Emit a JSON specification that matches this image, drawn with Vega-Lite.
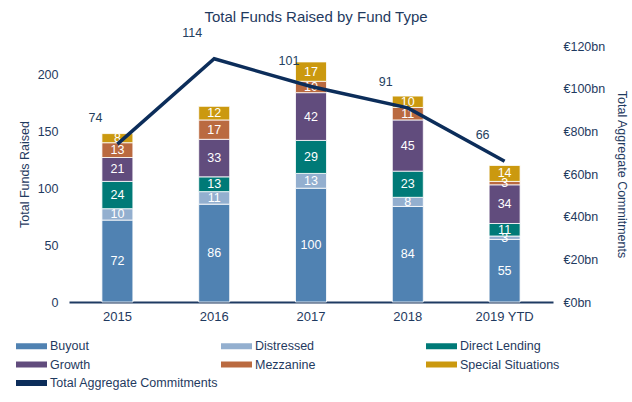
{
  "$schema": "https://vega.github.io/schema/vega-lite/v6.json",
  "width": 484,
  "height": 256,
  "autosize": {"type": "none"},
  "padding": {"left": 69, "top": 46, "right": 79, "bottom": 100},
  "background": "white",
  "config": {
    "font": "Liberation Sans",
    "view": {"stroke": null},
    "axis": {"labelColor": "#1F3A60", "titleColor": "#1F3A60", "labelFont": "Liberation Sans", "titleFont": "Liberation Sans", "grid": false, "ticks": false}
  },
  "title": {"text": "Total Funds Raised by Fund Type", "fontSize": 15, "fontWeight": "normal", "color": "#1F3A60", "anchor": "middle", "offset": 2, "dx": 5},
  "datasets": {
    "bars": [
      {"year": "2015", "type": "Buyout", "value": 72, "k": 1},
      {"year": "2015", "type": "Distressed", "value": 10, "k": 2},
      {"year": "2015", "type": "Direct Lending", "value": 24, "k": 3},
      {"year": "2015", "type": "Growth", "value": 21, "k": 4},
      {"year": "2015", "type": "Mezzanine", "value": 13, "k": 5},
      {"year": "2015", "type": "Special Situations", "value": 8, "k": 6},
      {"year": "2016", "type": "Buyout", "value": 86, "k": 1},
      {"year": "2016", "type": "Distressed", "value": 11, "k": 2},
      {"year": "2016", "type": "Direct Lending", "value": 13, "k": 3},
      {"year": "2016", "type": "Growth", "value": 33, "k": 4},
      {"year": "2016", "type": "Mezzanine", "value": 17, "k": 5},
      {"year": "2016", "type": "Special Situations", "value": 12, "k": 6},
      {"year": "2017", "type": "Buyout", "value": 100, "k": 1},
      {"year": "2017", "type": "Distressed", "value": 13, "k": 2},
      {"year": "2017", "type": "Direct Lending", "value": 29, "k": 3},
      {"year": "2017", "type": "Growth", "value": 42, "k": 4},
      {"year": "2017", "type": "Mezzanine", "value": 10, "k": 5},
      {"year": "2017", "type": "Special Situations", "value": 17, "k": 6},
      {"year": "2018", "type": "Buyout", "value": 84, "k": 1},
      {"year": "2018", "type": "Distressed", "value": 8, "k": 2},
      {"year": "2018", "type": "Direct Lending", "value": 23, "k": 3},
      {"year": "2018", "type": "Growth", "value": 45, "k": 4},
      {"year": "2018", "type": "Mezzanine", "value": 11, "k": 5},
      {"year": "2018", "type": "Special Situations", "value": 10, "k": 6},
      {"year": "2019 YTD", "type": "Buyout", "value": 55, "k": 1},
      {"year": "2019 YTD", "type": "Distressed", "value": 3, "k": 2},
      {"year": "2019 YTD", "type": "Direct Lending", "value": 11, "k": 3},
      {"year": "2019 YTD", "type": "Growth", "value": 34, "k": 4},
      {"year": "2019 YTD", "type": "Mezzanine", "value": 3, "k": 5},
      {"year": "2019 YTD", "type": "Special Situations", "value": 14, "k": 6}
    ],
    "line": [
      {"year": "2015", "total": 74},
      {"year": "2016", "total": 114},
      {"year": "2017", "total": 101},
      {"year": "2018", "total": 91},
      {"year": "2019 YTD", "total": 66}
    ]
  },
  "encoding": {
    "x": {
      "field": "year", "type": "nominal", "sort": null,
      "scale": {"paddingInner": 0.68, "paddingOuter": 0.34},
      "axis": {"title": null, "labelAngle": 0, "labelFontSize": 13, "labelPadding": 8, "domainColor": "#1F3B63", "domainWidth": 2}
    }
  },
  "layer": [
    {
      "data": {"name": "bars"},
      "layer": [
        {
          "mark": {"type": "bar", "stroke": "#ffffff", "strokeWidth": 0.8},
          "encoding": {
            "y": {"field": "value", "type": "quantitative", "stack": "zero",
              "scale": {"domain": [0, 225], "nice": false},
              "axis": {"title": "Total Funds Raised", "values": [0, 50, 100, 150, 200], "domain": false, "labelFontSize": 12.5, "labelPadding": 11, "titleFontSize": 12.5, "titleFontWeight": "normal", "titlePadding": 6}},
            "order": {"field": "k", "type": "quantitative"},
            "color": {
              "field": "type", "type": "nominal",
              "scale": {
                "domain": ["Buyout", "Distressed", "Direct Lending", "Growth", "Mezzanine", "Special Situations", "Total Aggregate Commitments"],
                "range": ["#5082B2", "#93AFCF", "#007A77", "#614C7D", "#BA6A40", "#CB990F", "#0C2D5A"]
              },
              "legend": {
                "title": null, "orient": "none", "direction": "horizontal", "legendX": -45.5, "legendY": 292, "columns": 3, "gridAlign": "all",
                "columnPadding": 2, "rowPadding": 3.5, "padding": 0,
                "labelFontSize": 12.5, "labelColor": "#1F3A60", "labelFont": "Liberation Sans", "labelOffset": 10.5, "labelLimit": 0,
                "symbolSize": 256, "symbolType": "M-1.9375,-0.375H1.9375V0.375H-1.9375Z", "symbolStrokeWidth": 0,
                "encode": {"symbols": {"update": {"shape": {"signal": "datum.value === 'Total Aggregate Commitments' ? 'M-1.9375,-0.25H1.9375V0.25H-1.9375Z' : 'M-1.9375,-0.375H1.9375V0.375H-1.9375Z'"}}}}
              }
            }
          }
        },
        {
          "mark": {"type": "text", "color": "white", "fontSize": 12.5, "baseline": "middle"},
          "encoding": {
            "y": {"field": "value", "type": "quantitative", "stack": "zero", "bandPosition": 0.5},
            "order": {"field": "k", "type": "quantitative"},
            "detail": {"field": "type"},
            "text": {"field": "value", "type": "quantitative"}
          }
        }
      ]
    },
    {
      "data": {"name": "line"},
      "layer": [
        {
          "mark": {"type": "line", "color": "#0C2D5A", "strokeWidth": 3.5},
          "encoding": {
            "y": {"field": "total", "type": "quantitative",
              "scale": {"domain": [0, 120], "nice": false},
              "axis": {"orient": "right", "title": "Total Aggregate Commitments", "values": [0, 20, 40, 60, 80, 100, 120], "labelExpr": "'€' + datum.value + 'bn'", "domain": false, "labelFontSize": 12.5, "labelPadding": 10, "titleFontSize": 12.5, "titleFontWeight": "normal", "titlePadding": 10}}
          }
        },
        {
          "mark": {"type": "text", "color": "#243F60", "fontSize": 12.5, "dx": -22, "dy": -26},
          "encoding": {
            "y": {"field": "total", "type": "quantitative"},
            "text": {"field": "total", "type": "quantitative"}
          }
        }
      ]
    }
  ],
  "resolve": {"scale": {"y": "independent"}}
}
